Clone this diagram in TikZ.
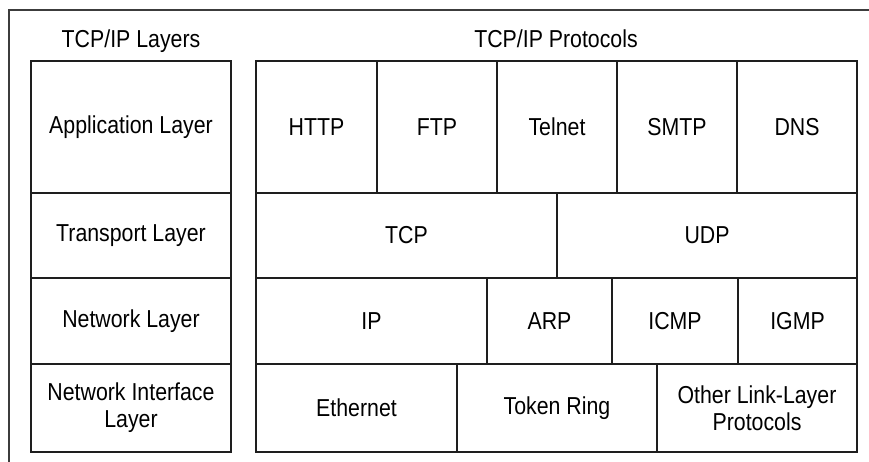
\documentclass[tikz,border=0pt]{standalone}
\usepackage{fontspec}
\setmainfont{Liberation Sans}[FakeStretch=0.87]
\usetikzlibrary{positioning}
\definecolor{linecolor}{RGB}{30, 30, 30}
\definecolor{framecolor}{RGB}{60, 60, 60}
\tikzset{
	cellbox/.style={
		rectangle, draw=linecolor, line width=1.6pt,
		inner sep=0pt, align=center,
		font=\fontsize{24.5}{27}\selectfont
	},
	headline/.style={
		inner sep=0pt, anchor=base, font=\fontsize{24.5}{27}\selectfont
	},
	frameline/.style={
		draw=framecolor, line width=1.4pt
	}
}

\begin{document}
\begin{tikzpicture}[x=1pt, y=-1pt]
	\useasboundingbox (0,0) rectangle (869,462);
	
	%% outer frame (open on the right and bottom)
	\coordinate (frametop) at (869,10);
	\coordinate (framecorner) at (9,10);
	\coordinate (framebottom) at (9,462);
	\draw[frameline] (framebottom) -- (framecorner) -- (frametop);
	
	%% headings
	\node[headline] (layershead) at (131,48) {TCP/IP Layers};
	\node[headline] (protohead) at (556,48) {TCP/IP Protocols};
	
	%% left column -- layers
	\node[cellbox, minimum width=200, minimum height=132] (applayer) at (131,127) {Application Layer};
	\node[cellbox, minimum width=200, minimum height=85] (translayer) at (131,235.5) {Transport Layer};
	\node[cellbox, minimum width=200, minimum height=86] (netlayer) at (131,321) {Network Layer};
	\node[cellbox, minimum width=200, minimum height=88] (nilayer) at (131,408) {Network Interface\\Layer};
	
	%% application row
	\node[cellbox, minimum width=121, minimum height=132] (http) at (316.5,127) {HTTP};
	\node[cellbox, minimum width=120, minimum height=132] (ftp) at (437,127) {FTP};
	\node[cellbox, minimum width=120, minimum height=132] (telnet) at (557,127) {Telnet};
	\node[cellbox, minimum width=120, minimum height=132] (smtp) at (677,127) {SMTP};
	\node[cellbox, minimum width=120, minimum height=132] (dns) at (797,127) {DNS};
	
	%% transport row
	\node[cellbox, minimum width=301, minimum height=85] (tcp) at (406.5,235.5) {TCP};
	\node[cellbox, minimum width=300, minimum height=85] (udp) at (707,235.5) {UDP};
	
	%% network row
	\node[cellbox, minimum width=231, minimum height=86] (ip) at (371.5,321) {IP};
	\node[cellbox, minimum width=125, minimum height=86] (arp) at (549.5,321) {ARP};
	\node[cellbox, minimum width=126, minimum height=86] (icmp) at (675,321) {ICMP};
	\node[cellbox, minimum width=119, minimum height=86] (igmp) at (797.5,321) {IGMP};
	
	%% network interface row
	\node[cellbox, minimum width=201, minimum height=88] (ethernet) at (356.5,408) {Ethernet};
	\node[cellbox, minimum width=200, minimum height=88] (tokenring) at (557,408) {Token Ring};
	\node[cellbox, minimum width=200, minimum height=88] (otherlink) at (757,408) {Other Link-Layer\\Protocols};
\end{tikzpicture}
\end{document}
